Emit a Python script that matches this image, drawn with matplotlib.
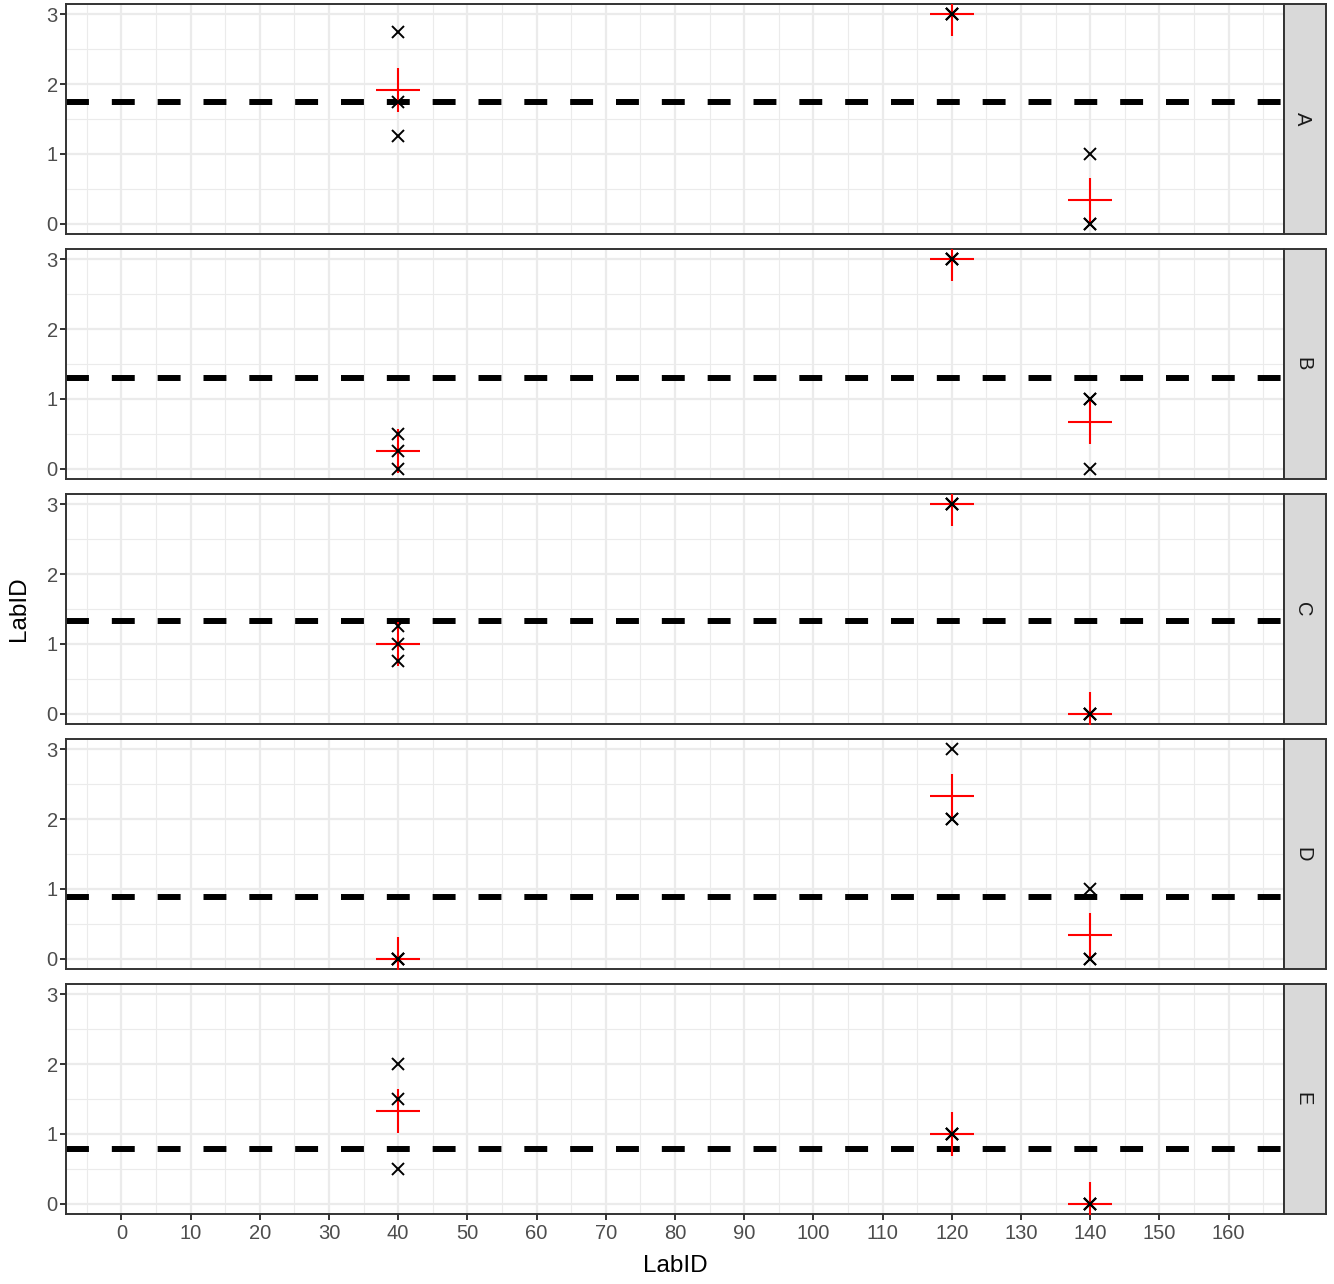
import numpy as np
import matplotlib
matplotlib.use("Agg")
import matplotlib.pyplot as plt

plt.rcParams['font.family'] = ['Liberation Sans', 'DejaVu Sans']
plt.rcParams['lines.scale_dashes'] = False

# replicate results per lab, one list per facet
labs = [40, 120, 140]
facets = ["A", "B", "C", "D", "E"]
results_A = [[2.75, 1.75, 1.25], [3, 3, 3], [1, 0, 0]]
results_B = [[0.5, 0.25, 0], [3, 3, 3], [1, 1, 0]]
results_C = [[1.25, 1, 0.75], [3, 3, 3], [0, 0, 0]]
results_D = [[0, 0, 0], [3, 2, 2], [1, 0, 0]]
results_E = [[2, 1.5, 0.5], [1, 1, 1], [0, 0, 0]]
all_results = [results_A, results_B, results_C, results_D, results_E]

W, H = 1334, 1284
fig = plt.figure(figsize=(W / 100, H / 100), dpi=100)

left, right = 66, 1284
strip_w = 42
top0, panel_h, gap = 4, 230, 15

grid_col = "#EBEBEB"
border_col = "#333333"
tick_col = "#4D4D4D"

for i, (name, res) in enumerate(zip(facets, all_results)):
    top = top0 + i * (panel_h + gap)
    ax = fig.add_axes([left / W, 1 - (top + panel_h) / H, (right - left) / W, panel_h / H])

    # raw points
    for lab, vals in zip(labs, res):
        ax.plot([lab] * len(vals), vals, linestyle="none", marker="x", color="black",
                markersize=8.5, markeredgewidth=1.4, zorder=4)
    # lab means
    means = [np.mean(v) for v in res]
    ax.plot(labs, means, linestyle="none", marker="+", color="red",
            markersize=32, markeredgewidth=1.5, zorder=3)
    # grand mean
    grand = np.mean([x for v in res for x in v])
    ax.axhline(grand, color="black", linewidth=4.3, dashes=(16.5, 16.5),
               dash_capstyle="butt", zorder=2)

    ax.set_xlim(-8, 168)
    ax.set_ylim(-0.15, 3.15)
    ax.set_xticks(np.arange(0, 161, 10))
    ax.set_xticks(np.arange(-5, 166, 10), minor=True)
    ax.set_yticks([0, 1, 2, 3])
    ax.set_yticks([0.5, 1.5, 2.5], minor=True)
    ax.grid(True, which="major", color=grid_col, linewidth=1.6, zorder=0)
    ax.grid(True, which="minor", color=grid_col, linewidth=0.8, zorder=0)
    ax.set_axisbelow(True)
    for sp in ax.spines.values():
        sp.set_color(border_col)
        sp.set_linewidth(1.4)
    ax.tick_params(which="major", length=4.5, width=1.4, color=border_col,
                   labelcolor=tick_col, labelsize=14.5)
    ax.tick_params(axis="y", pad=1.5)
    ax.tick_params(axis="x", pad=3)
    ax.tick_params(which="minor", length=0)
    if i < len(facets) - 1:
        ax.tick_params(axis="x", which="major", labelbottom=False, length=0)

    # facet strip
    sax = fig.add_axes([right / W, 1 - (top + panel_h) / H, strip_w / W, panel_h / H])
    sax.set_facecolor("#D9D9D9")
    sax.set_xticks([])
    sax.set_yticks([])
    for sp in sax.spines.values():
        sp.set_color(border_col)
        sp.set_linewidth(1.4)
    sax.text(0.45, 0.5, name, rotation=-90, ha="center", va="center",
             fontsize=14.5, color="#1A1A1A", transform=sax.transAxes)

fig.text((left + right) / 2 / W, 1 - 1266 / H, "LabID", ha="center", va="center",
         fontsize=17.5, color="black")
fig.text(19 / W, 1 - 609 / H, "LabID", ha="center", va="center", rotation=90,
         fontsize=17.5, color="black")

fig.savefig("out.png", dpi=100)
